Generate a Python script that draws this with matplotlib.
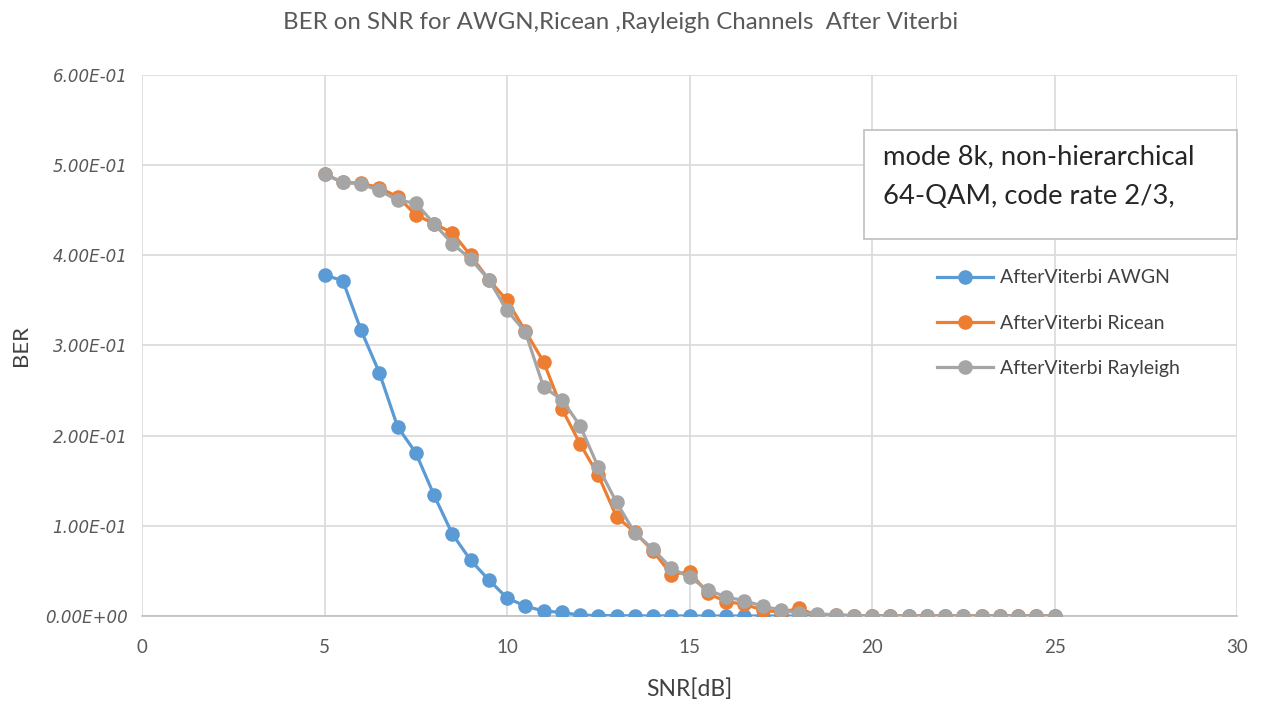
import matplotlib
matplotlib.use("Agg")
import matplotlib.pyplot as plt
from matplotlib.patches import Rectangle
from matplotlib.ticker import FuncFormatter, MultipleLocator

plt.rcParams['font.family'] = ['Lato', 'DejaVu Sans']

snr = [5 + 0.5 * i for i in range(41)]

ber_awgn = [0.378, 0.372, 0.317, 0.270, 0.210, 0.181, 0.134, 0.091, 0.062, 0.040,
            0.020, 0.011, 0.0055, 0.004, 0.001, 0.0005, 0.0003, 0.0002, 0.0001, 0.0001,
            0.0, 0.0, 0.0, 0.0, 0.0, 0.0, 0.0, 0.0, 0.0, 0.0,
            0.0, 0.0, 0.0, 0.0, 0.0, 0.0, 0.0, 0.0, 0.0, 0.0, 0.0]

ber_ricean = [0.490, 0.481, 0.480, 0.475, 0.465, 0.445, 0.435, 0.425, 0.400, 0.373,
              0.350, 0.316, 0.282, 0.230, 0.191, 0.156, 0.110, 0.093, 0.072, 0.046,
              0.049, 0.025, 0.016, 0.013, 0.0066, 0.004, 0.0085, 0.0005, 0.001, 0.0003,
              0.0, 0.0, 0.0, 0.0, 0.0, 0.0, 0.0, 0.0, 0.0, 0.0, 0.0]

ber_rayleigh = [0.490, 0.481, 0.479, 0.472, 0.461, 0.458, 0.435, 0.413, 0.396, 0.373,
                0.339, 0.315, 0.254, 0.240, 0.211, 0.165, 0.126, 0.092, 0.074, 0.053,
                0.043, 0.029, 0.021, 0.017, 0.011, 0.0066, 0.003, 0.0022, 0.0015, 0.0005,
                0.0002, 0.0, 0.0, 0.0, 0.0, 0.0, 0.0, 0.0, 0.0, 0.0, 0.0]

series_labels = ['AfterViterbi AWGN', 'AfterViterbi Ricean', 'AfterViterbi Rayleigh']
series_colors = ['#5B9BD5', '#ED7D31', '#A5A5A5']

fig = plt.figure(figsize=(12.61, 7.04), dpi=100)
ax = fig.add_axes([0.1126, 0.125, 0.8685, 0.7685])

for ys, lab, col in zip([ber_awgn, ber_ricean, ber_rayleigh], series_labels, series_colors):
    ax.plot(snr, ys, color=col, lw=2.3, marker='o', markersize=10.5,
            markeredgewidth=0, label=lab, solid_joinstyle='round', zorder=3)

ax.set_xlim(0, 30)
ax.set_ylim(0, 0.6)
ax.xaxis.set_major_locator(MultipleLocator(5))
ax.yaxis.set_major_locator(MultipleLocator(0.1))
ax.yaxis.set_major_formatter(FuncFormatter(lambda v, p: f"{v:.2E}"))

ax.grid(True, color='#D9D9D9', lw=1.2, zorder=0)
for s in ['top', 'right', 'left']:
    ax.spines[s].set_visible(False)
ax.spines['bottom'].set_color('#BFBFBF')
ax.spines['bottom'].set_linewidth(1.2)
ax.tick_params(axis='x', length=0, colors='#595959', labelsize=13.5, pad=16.3)
ax.tick_params(axis='y', length=0, colors='#595959', labelsize=12, pad=10.4)
for t in ax.get_yticklabels():
    t.set_fontstyle('italic')
    t.set_family(['DejaVu Sans'])

ax.set_xlabel('SNR[dB]', fontsize=16.5, color='#404040', labelpad=16.5)
ax.set_ylabel('BER', fontsize=16, color='#404040', labelpad=10)
fig.text(0.492, 0.968, 'BER on SNR for AWGN,Ricean ,Rayleigh Channels  After Viterbi',
         ha='center', va='center', fontsize=17.3, color='#595959')

leg = ax.legend(loc='upper left', bbox_to_anchor=(0.7096, 0.673), frameon=False,
                fontsize=14, handlelength=2.9, labelspacing=1.46, handletextpad=0.36,
                labelcolor='#404040')

# annotation box with the transmission parameters
ax.add_patch(Rectangle((0.659, 0.697), 0.341, 0.201, transform=ax.transAxes,
                       fc='white', ec='#BFBFBF', lw=1.2, zorder=5, clip_on=False))
ax.text(0.677, 0.848, 'mode 8k, non-hierarchical', transform=ax.transAxes,
        ha='left', va='center', fontsize=19.7, color='#262626', zorder=6)
ax.text(0.677, 0.776, '64-QAM, code rate 2/3,', transform=ax.transAxes,
        ha='left', va='center', fontsize=19.7, color='#262626', zorder=6)

fig.savefig('out.png', dpi=100, facecolor='white')
